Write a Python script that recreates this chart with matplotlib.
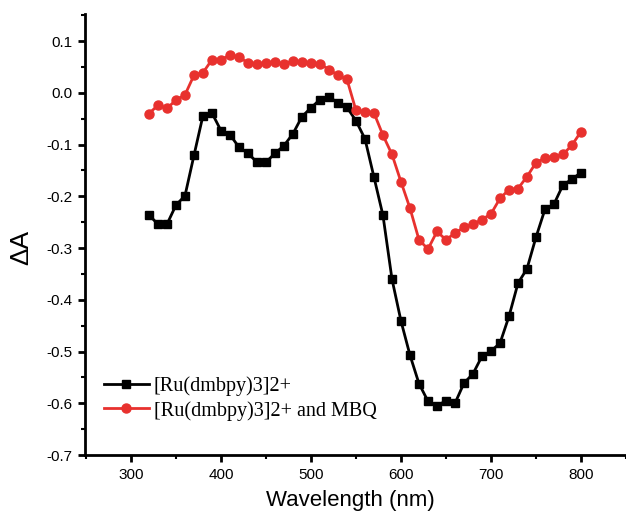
"""
Espectro de absorción transitoria (Delta A) de [Ru(dmbpy)3]2+ con y sin MBQ.
Genera out.png.
"""

import matplotlib
matplotlib.use("Agg")
import matplotlib.pyplot as plt
from matplotlib.ticker import MultipleLocator


# ============================================================
# DATOS
# ============================================================

wavelength = [
    320, 330, 340, 350, 360, 370, 380, 390, 400, 410,
    420, 430, 440, 450, 460, 470, 480, 490, 500, 510,
    520, 530, 540, 550, 560, 570, 580, 590, 600, 610,
    620, 630, 640, 650, 660, 670, 680, 690, 700, 710,
    720, 730, 740, 750, 760, 770, 780, 790, 800,
]

ru_only = [
    -0.236, -0.254, -0.254, -0.217, -0.199, -0.121, -0.044, -0.039, -0.073, -0.081,
    -0.105, -0.117, -0.134, -0.134, -0.117, -0.102, -0.079, -0.046, -0.029, -0.013,
    -0.008, -0.019, -0.028, -0.054, -0.089, -0.163, -0.237, -0.360, -0.441, -0.507,
    -0.562, -0.596, -0.605, -0.595, -0.600, -0.561, -0.543, -0.509, -0.499, -0.484,
    -0.432, -0.368, -0.340, -0.279, -0.225, -0.215, -0.178, -0.167, -0.154,
]

ru_mbq = [
    -0.040, -0.024, -0.030, -0.014, -0.004, 0.034, 0.039, 0.064, 0.064, 0.073,
    0.069, 0.058, 0.055, 0.057, 0.059, 0.056, 0.061, 0.060, 0.057, 0.056,
    0.045, 0.034, 0.026, -0.034, -0.037, -0.039, -0.082, -0.119, -0.172, -0.223,
    -0.284, -0.302, -0.268, -0.284, -0.271, -0.260, -0.254, -0.245, -0.234, -0.204,
    -0.187, -0.185, -0.162, -0.135, -0.126, -0.124, -0.119, -0.101, -0.075,
]

labels = ["[Ru(dmbpy)3]2+", "[Ru(dmbpy)3]2+ and MBQ"]

x_ticks = [300, 400, 500, 600, 700, 800]
y_ticks = [0.1, 0.0, -0.1, -0.2, -0.3, -0.4, -0.5, -0.6, -0.7]


# ============================================================
# GRÁFICO
# ============================================================

def main() -> None:

    plt.rcParams["font.family"] = ["Liberation Sans", "DejaVu Sans"]

    fig = plt.figure(figsize=(6.26, 5.12), dpi=100)
    ax = fig.add_axes([0.1353, 0.1113, 0.8647, 0.861])

    ax.plot(
        wavelength, ru_only,
        color="black", linewidth=2,
        marker="s", markersize=6,
        label=labels[0]
    )

    ax.plot(
        wavelength, ru_mbq,
        color="#e8312e", linewidth=2,
        marker="o", markersize=6.5,
        label=labels[1]
    )

    ax.set_xlim(248.6, 850)
    ax.set_ylim(-0.7, 0.152)

    ax.set_xticks(x_ticks)
    ax.set_yticks(y_ticks)
    ax.set_yticklabels([f"{v:.1f}" for v in y_ticks])
    ax.xaxis.set_minor_locator(MultipleLocator(50))
    ax.yaxis.set_minor_locator(MultipleLocator(0.05))

    ax.spines["top"].set_visible(False)
    ax.spines["right"].set_visible(False)
    ax.spines["left"].set_linewidth(2)
    ax.spines["bottom"].set_linewidth(2)

    ax.tick_params(which="major", direction="out", length=5, width=2,
                   labelsize=11, pad=4)
    ax.tick_params(which="minor", direction="out", length=3, width=1.5)

    ax.set_xlabel("Wavelength (nm)", fontsize=16)
    ax.xaxis.set_label_coords(0.49, -0.079)

    ax.set_ylabel("ΔA", fontsize=19)
    ax.yaxis.set_label_coords(-0.095, 0.472)

    ax.legend(
        loc="lower left",
        bbox_to_anchor=(0.02, 0.06),
        frameon=False,
        prop={"family": "Liberation Serif", "size": 14.5},
        handlelength=2.25,
        handletextpad=0.25,
        labelspacing=0.25,
        borderaxespad=0
    )

    fig.savefig("out.png", dpi=100)
    plt.close(fig)


if __name__ == "__main__":
    main()
